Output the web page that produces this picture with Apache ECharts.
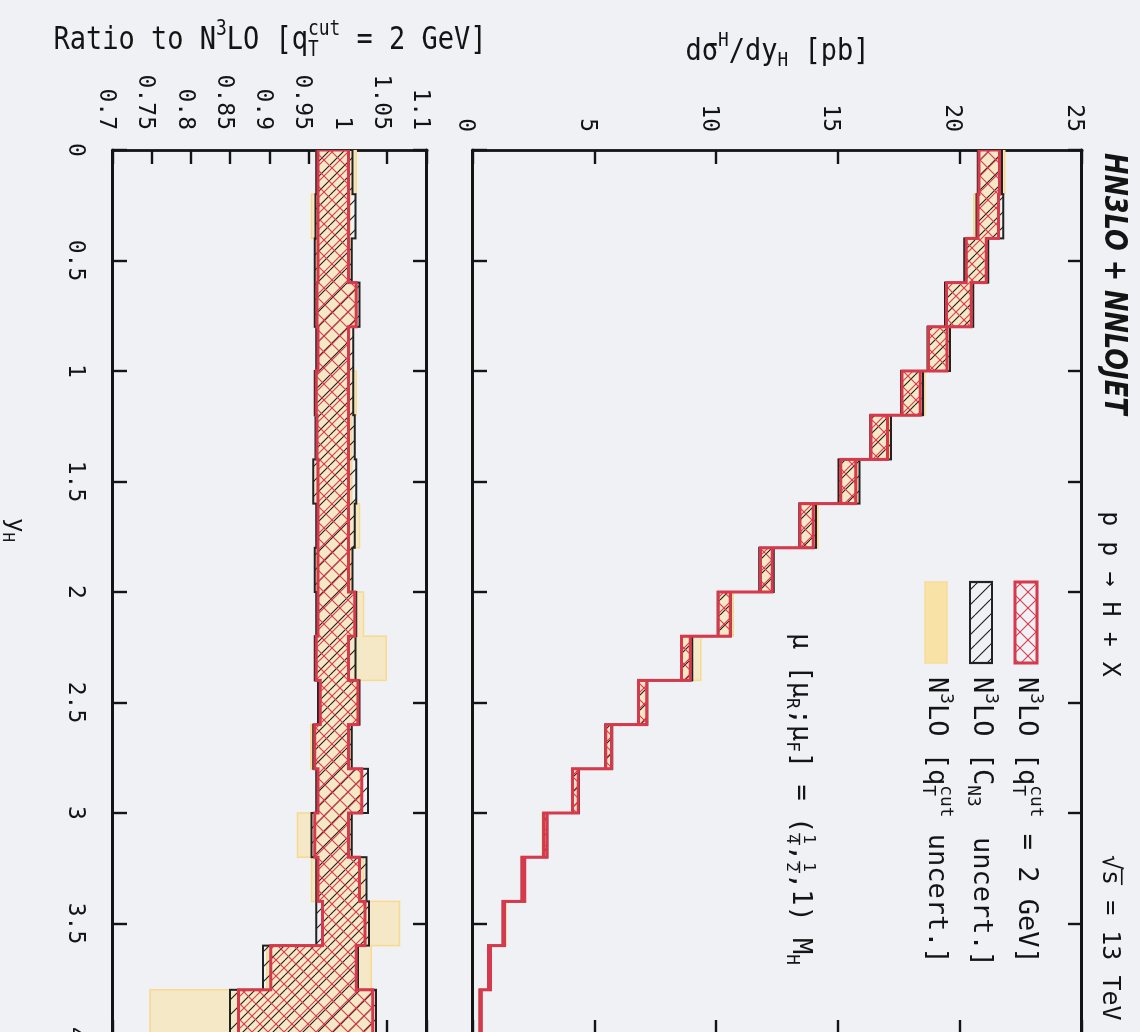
<!DOCTYPE html>
<html>
<head>
<meta charset="utf-8">
<script src="https://cdn.jsdelivr.net/npm/echarts@6/dist/echarts.min.js"></script>
<style>
  html, body { margin: 0; padding: 0; width: 1140px; height: 1032px; overflow: hidden; background: #eff1f5; }
  /* the figure is laid out upright and turned a quarter turn clockwise */
  #chart { position: absolute; left: 0; top: 0; width: 1032px; height: 1140px;
           transform-origin: 0 0; transform: translateX(1140px) rotate(90deg); }
</style>
</head>
<body>
<div id="chart"></div>
<script>
// ---- data: Higgs rapidity, 0.2-wide bins ----
const binEdges = [0, 0.2, 0.4, 0.6, 0.8, 1.0, 1.2, 1.4, 1.6, 1.8, 2.0,
                  2.2, 2.4, 2.6, 2.8, 3.0, 3.2, 3.4, 3.6, 3.8, 4.0];

// N3LO [qT cut = 2 GeV] central prediction, dsigma/dy_H in pb
const xsecCentral = [21.61, 21.57, 21.07, 20.25, 19.46, 18.36, 17.02, 15.71, 13.97, 12.28,
                     10.48, 8.92, 7.05, 5.69, 4.25, 3.04, 2.09, 1.27, 0.71, 0.33];

// scale-variation band (ratio to central)
const scaleLo = [0.961, 0.961, 0.961, 0.960, 0.961, 0.959, 0.960, 0.961, 0.961, 0.961,
                 0.961, 0.959, 0.964, 0.957, 0.961, 0.957, 0.961, 0.967, 0.901, 0.860];
const scaleHi = [1.000, 1.000, 1.000, 1.010, 1.000, 1.000, 1.000, 1.000, 1.000, 1.000,
                 1.008, 1.000, 1.012, 1.000, 1.017, 1.000, 1.014, 1.021, 1.010, 1.031];

// C_N3 uncertainty band (ratio to central)
const cn3Lo = [0.959, 0.958, 0.957, 0.957, 0.959, 0.957, 0.958, 0.955, 0.959, 0.957,
               0.959, 0.957, 0.961, 0.955, 0.959, 0.953, 0.959, 0.959, 0.891, 0.849];
const cn3Hi = [1.005, 1.009, 1.004, 1.014, 1.006, 1.006, 1.008, 1.010, 1.008, 1.005,
               1.010, 1.009, 1.014, 1.004, 1.025, 1.004, 1.023, 1.026, 1.012, 1.035];

// qT cut uncertainty band (ratio to central)
const qtcutLo = [0.959, 0.953, 0.959, 0.959, 0.960, 0.959, 0.960, 0.959, 0.960, 0.959,
                 0.960, 0.959, 0.963, 0.952, 0.960, 0.935, 0.953, 0.966, 0.896, 0.747];
const qtcutHi = [1.010, 1.002, 1.002, 1.008, 1.002, 1.010, 1.004, 1.004, 1.014, 1.003,
                 1.019, 1.048, 1.010, 1.002, 1.014, 1.002, 1.019, 1.065, 1.029, 1.032];

// ---- layout (upright frame) ----
const PLOT_LEFT = 150, PLOT_W = 884;
const MAIN_TOP = 58, MAIN_H = 609;
const RAT_TOP = 713, RAT_H = 314;

const RED = '#d6394c';
const INK = '#141414';
const MONO = "'DejaVu Sans Mono', monospace";

// hatching tiles
function hatch(color, size, lw, dirs) {
  const c = document.createElement('canvas');
  c.width = c.height = size;
  const ctx = c.getContext('2d');
  ctx.strokeStyle = color;
  ctx.lineWidth = lw;
  for (const d of dirs) {
    for (const k of [-size, 0, size]) {
      ctx.beginPath();
      if (d === 'down') { ctx.moveTo(k, 0); ctx.lineTo(k + size, size); }
      else { ctx.moveTo(k, size); ctx.lineTo(k + size, 0); }
      ctx.stroke();
    }
  }
  return { image: c, repeat: 'repeat' };
}
const redCross = hatch(RED, 16, 1.1, ['down', 'up']);
const blackDiag = hatch('#1a1a1a', 15, 1.1, ['down']);
const CREAM = '#f5e8c6';
const YELLOW_EDGE = '#f8d98e';

// text with super/subscripts, stacked scripts and small fractions
const mctx = document.createElement('canvas').getContext('2d');
function textW(t, size, fam, wt, st) {
  mctx.font = `${st} ${wt} ${size}px ${fam}`;
  return mctx.measureText(t).width;
}
function composed(parts, o) {
  const s = o.size, fam = o.family || MONO, wt = o.weight || 'normal', st = o.style || 'normal';
  const col = o.color || INK, ss = s * 0.66;
  const kids = [];
  let x = 0;
  const T = (t, xx, yy, sz) => kids.push({
    type: 'text', x: xx, y: yy, silent: true,
    style: { text: t, fontSize: sz, fontFamily: fam, fontWeight: wt, fontStyle: st,
             fill: col, align: 'left', verticalAlign: 'middle' }
  });
  const W = (t, sz) => textW(t, sz, fam, wt, st);
  for (const p of parts) {
    if (typeof p === 'string') {
      T(p, x, 0, s); x += W(p, s);
    } else if (p.num) {
      const fs = s * 0.6;
      const w = Math.max(W(p.num, fs), W(p.den, fs)) + 2;
      T(p.num, x + (w - W(p.num, fs)) / 2, -0.3 * s, fs);
      T(p.den, x + (w - W(p.den, fs)) / 2, 0.34 * s, fs);
      kids.push({ type: 'line', silent: true, shape: { x1: x, y1: 0.02 * s, x2: x + w, y2: 0.02 * s },
                  style: { stroke: col, lineWidth: 1.4 } });
      x += w;
    } else if (p.over) {
      const w = W(p.over, s);
      T(p.over, x, 0, s);
      kids.push({ type: 'line', silent: true, shape: { x1: x - 1, y1: -0.47 * s, x2: x + w, y2: -0.47 * s },
                  style: { stroke: col, lineWidth: 1.6 } });
      x += w;
    } else {
      let w = 0;
      if (p.sup) { T(p.sup, x, -0.36 * s, ss); w = Math.max(w, W(p.sup, ss)); }
      if (p.sub) { T(p.sub, x, 0.3 * s, ss); w = Math.max(w, W(p.sub, ss)); }
      x += w + (p.gap || 0);
    }
  }
  const off = -x * (o.anchor || 0);
  kids.forEach(k => {
    if (k.type === 'text') k.x += off;
    else { k.shape.x1 += off; k.shape.x2 += off; }
  });
  return { type: 'group', x: o.x, y: o.y, rotation: o.rotation || 0,
           scaleX: o.scaleX || 1, scaleY: o.scaleY || 1, silent: true, children: kids };
}

// one stepped band drawn as a single outline through the axes
function band(gridIdx, lo, hi, mult, style, z) {
  return {
    type: 'custom', coordinateSystem: 'cartesian2d',
    xAxisIndex: gridIdx * 2, yAxisIndex: gridIdx * 2,
    clip: true, silent: true, z: z, data: [[0, 0]],
    renderItem: function (params, api) {
      const v = (arr, i) => mult ? mult[i] * arr[i] : arr[i];
      const pts = [];
      for (let i = 0; i < hi.length; i++) {
        pts.push(api.coord([binEdges[i], v(hi, i)]));
        pts.push(api.coord([binEdges[i + 1], v(hi, i)]));
      }
      for (let i = lo.length - 1; i >= 0; i--) {
        pts.push(api.coord([binEdges[i + 1], v(lo, i)]));
        pts.push(api.coord([binEdges[i], v(lo, i)]));
      }
      return { type: 'polygon', shape: { points: pts },
               style: Object.assign({ lineJoin: 'miter' }, style) };
    }
  };
}

const frameLine = { show: true, onZero: false, lineStyle: { color: INK, width: 2.8 } };
const tick = { show: true, inside: true, length: 14, lineStyle: { color: INK, width: 2.4 } };
const tickLabel = { fontFamily: MONO, fontSize: 23, color: INK };

function xAxis(grid, pos, labels) {
  return { type: 'value', gridIndex: grid, position: pos, min: 0, max: 4, interval: 0.5,
           axisLine: frameLine, axisTick: tick, splitLine: { show: false },
           axisLabel: labels ? Object.assign({ show: true, margin: 27 }, tickLabel) : { show: false } };
}
function yAxis(grid, pos, min, max, step, labels, margin, drop) {
  return { type: 'value', gridIndex: grid, position: pos, min: min, max: max, interval: step,
           axisLine: frameLine, axisTick: tick, splitLine: { show: false },
           axisLabel: labels ? Object.assign({ show: true, margin: margin, verticalAlign: 'top',
                                               lineHeight: drop }, tickLabel)
                             : { show: false } };
}

const chart = echarts.init(document.getElementById('chart'), null,
                           { renderer: 'canvas', width: 1032, height: 1140 });

const legendRows = [
  { v: 114, box: { fill: redCross, stroke: RED, lineWidth: 3 },
    label: ['N', { sup: '3' }, 'LO [q', { sub: 'T', sup: 'cut' }, ' = 2 GeV]'] },
  { v: 159, box: { fill: blackDiag, stroke: '#222', lineWidth: 2.2 },
    label: ['N', { sup: '3' }, 'LO [C', { sub: 'N3', gap: 14 }, ' uncert.]'] },
  { v: 204, box: { fill: '#f9e2a6', stroke: '#f9dc99', lineWidth: 1.5 },
    label: ['N', { sup: '3' }, 'LO [q', { sub: 'T', sup: 'cut' }, ' uncert.]'] }
];

const graphics = [];
legendRows.forEach(r => {
  graphics.push({ type: 'rect', silent: true, shape: { x: 582, y: r.v - 11, width: 81, height: 22 },
                  style: r.box });
  graphics.push(composed(r.label, { x: 677, y: r.v, size: 27 }));
});
graphics.push(composed(['HN3LO + NNLOJET'], { x: 153, y: 27, size: 32, family: "'DejaVu Sans', sans-serif",
                                             weight: 'bold', style: 'italic', scaleX: 0.8 }));
graphics.push(composed(['p p \u2192 H + X'], { x: 594, y: 30, size: 25, anchor: 0.5 }));
graphics.push(composed(['\u221A', { over: 's' }, ' = 13 TeV'], { x: 855, y: 30, size: 25 }));
graphics.push(composed(['\u03BC [\u03BC', { sub: 'R' }, ';\u03BC', { sub: 'F' }, '] = (',
                        { num: '1', den: '4' }, ',', { num: '1', den: '2' }, ',1) M', { sub: 'H' }],
                       { x: 633, y: 340, size: 27 }));
// axis titles
graphics.push(composed(['d\u03C3', { sup: 'H' }, '/dy', { sub: 'H' }, ' [pb]'],
                       { x: 52, y: MAIN_TOP + MAIN_H / 2, size: 27, anchor: 0.5, rotation: Math.PI / 2, scaleY: 1.12 }));
graphics.push(composed(['Ratio to N', { sup: '3' }, 'LO [q', { sub: 'T', sup: 'cut' }, ' = 2 GeV]'],
                       { x: 41, y: RAT_TOP + RAT_H / 2, size: 27, anchor: 0.5, rotation: Math.PI / 2, scaleY: 1.15 }));
graphics.push(composed(['y', { sub: 'H' }], { x: 530, y: 1126, size: 24, anchor: 0.5 }));

chart.setOption({
  animation: false,
  backgroundColor: '#eff1f5',
  grid: [
    { left: PLOT_LEFT, top: MAIN_TOP, width: PLOT_W, height: MAIN_H, containLabel: false, outerBoundsMode: 'none' },
    { left: PLOT_LEFT, top: RAT_TOP, width: PLOT_W, height: RAT_H, containLabel: false, outerBoundsMode: 'none' }
  ],
  xAxis: [
    xAxis(0, 'bottom', false), xAxis(0, 'top', false),
    xAxis(1, 'bottom', true), xAxis(1, 'top', false)
  ],
  yAxis: [
    yAxis(0, 'left', 0, 25, 5, true, 18, 16), yAxis(0, 'right', 0, 25, 5, false),
    yAxis(1, 'left', 0.7, 1.1, 0.05, true, 20, 14), yAxis(1, 'right', 0.7, 1.1, 0.05, false)
  ],
  series: [
    // cross section panel
    band(0, qtcutLo, qtcutHi, xsecCentral, { fill: CREAM, stroke: YELLOW_EDGE, lineWidth: 1.5 }, 2),
    band(0, cn3Lo, cn3Hi, xsecCentral, { fill: blackDiag, stroke: '#222', lineWidth: 2 }, 3),
    band(0, scaleLo, scaleHi, xsecCentral, { fill: redCross, stroke: RED, lineWidth: 3 }, 4),
    // ratio panel
    band(1, qtcutLo, qtcutHi, null, { fill: CREAM, stroke: YELLOW_EDGE, lineWidth: 1.5 }, 2),
    band(1, cn3Lo, cn3Hi, null, { fill: blackDiag, stroke: '#222', lineWidth: 2 }, 3),
    band(1, scaleLo, scaleHi, null, { fill: redCross, stroke: RED, lineWidth: 3 }, 4)
  ],
  graphic: graphics
});
</script>
</body>
</html>
